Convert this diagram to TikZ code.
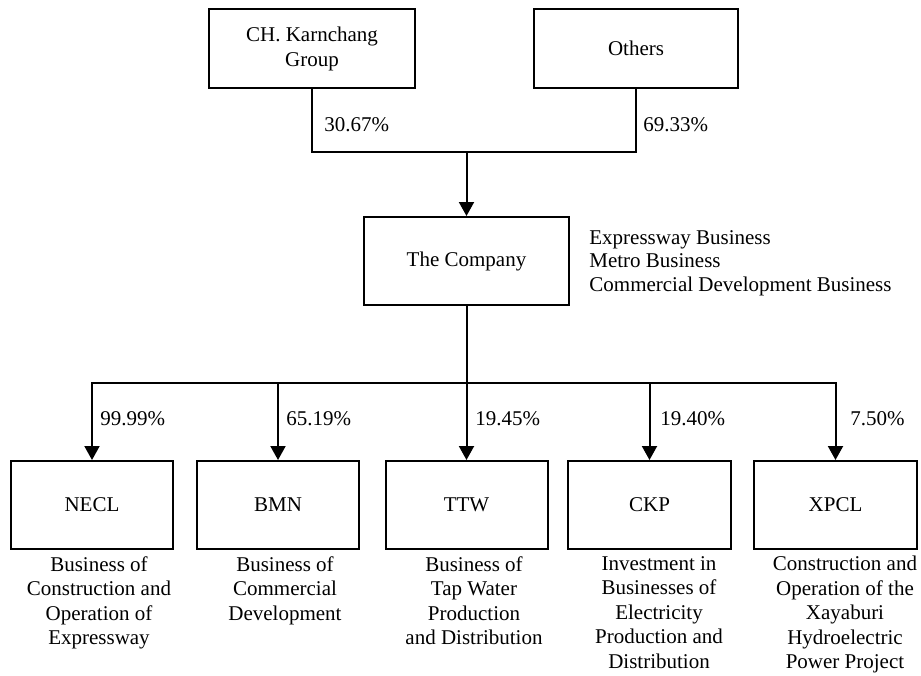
\documentclass[tikz,border=0pt]{standalone}
\usepackage{fontspec}
\setmainfont{Liberation Serif}
\usetikzlibrary{arrows.meta}
\begin{document}
\begin{tikzpicture}[x=0.5pt,y=-0.5pt,
  every node/.style={font=\fontsize{10.5}{12.5}\selectfont},
  box/.style={draw,line width=1pt,minimum height=#1,inner sep=0pt,align=center},
  wire/.style={line width=1pt},
  arr/.style={line width=1pt,-{Triangle[length=7pt,width=7.5pt]}},
  pct/.style={anchor=west,inner sep=0pt},
  desc/.style={anchor=north,inner sep=0pt,align=center,font=\fontsize{10.5}{12.25}\selectfont}]
\useasboundingbox (0,0) rectangle (921,675);
% top
\node[box=39.5pt,minimum width=103pt] (ch) at (312,48.5) {CH. Karnchang\\Group};
\node[box=39.5pt,minimum width=102pt] (oth) at (636,48.5) {Others};
\node[box=44pt,minimum width=102.5pt] (comp) at (466.5,261) {The Company};
\coordinate (bus1) at (466.5,152);
\draw[wire] (ch.south) |- (bus1) -| (oth.south);
\draw[arr] (bus1) -- (comp.north);
\node[pct] (p1) at (324,125) {30.67\%};
\node[pct] (p2) at (643,125) {69.33\%};
\node[anchor=north west,inner sep=0pt,align=left,font=\fontsize{10.5}{11.75}\selectfont] (biz) at (589,230)
  {Expressway Business\\Metro Business\\Commercial Development Business};
% bottom boxes
\node[box=44pt,minimum width=81pt] (necl) at (92,505) {NECL};
\node[box=44pt,minimum width=81pt] (bmn) at (278,505) {BMN};
\node[box=44pt,minimum width=81pt] (ttw) at (466.5,505) {TTW};
\node[box=44pt,minimum width=81.5pt] (ckp) at (649.5,505) {CKP};
\node[box=44pt,minimum width=81.5pt] (xpcl) at (835.5,505) {XPCL};
\coordinate (bus2) at (466.5,383);
\draw[wire] (comp.south) -- (bus2);
\draw[arr] (bus2) -| (necl.north);
\draw[arr] (bus2) -| (bmn.north);
\draw[arr] (bus2) -- (ttw.north);
\draw[arr] (bus2) -| (ckp.north);
\draw[arr] (bus2) -| (xpcl.north);
\node[pct] (q1) at (100,419) {99.99\%};
\node[pct] (q2) at (286,419) {65.19\%};
\node[pct] (q3) at (475,419) {19.45\%};
\node[pct] (q4) at (660,419) {19.40\%};
\node[pct] (q5) at (850,419) {7.50\%};
% descriptions
\node[desc] (d1) at (99,556) {Business of\\Construction and\\Operation of\\Expressway};
\node[desc] (d2) at (285,556) {Business of\\Commercial\\Development};
\node[desc] (d3) at (474,556) {Business of\\Tap Water\\Production\\and Distribution};
\node[desc] (d4) at (659,556) {Investment in\\Businesses of\\Electricity\\Production and\\Distribution};
\node[desc] (d5) at (845,556) {Construction and\\Operation of the\\Xayaburi\\Hydroelectric\\Power Project};
\end{tikzpicture}
\end{document}
